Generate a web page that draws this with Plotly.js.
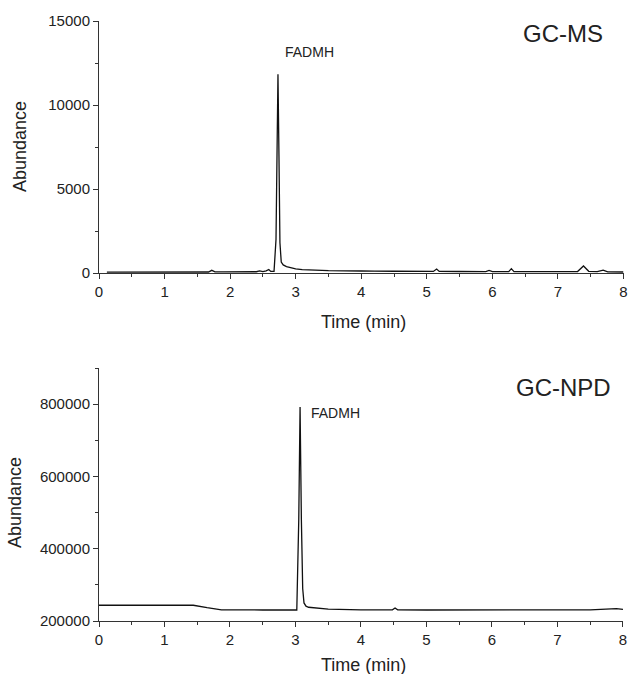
<!DOCTYPE html>
<html>
<head>
<meta charset="utf-8">
<script src="https://cdn.plot.ly/plotly-3.0.1.min.js"></script>
<style>html,body{margin:0;padding:0;background:#fff;}#chart{width:628px;height:674px;}</style>
</head>
<body>
<div id="chart"></div>
<script>
// GC-MS chromatogram (time in min, abundance)
const msTime = [0.12, 0.5, 1.0, 1.5, 1.67, 1.72, 1.77, 1.9, 2.2, 2.4, 2.45, 2.5, 2.55, 2.59, 2.62, 2.67, 2.7, 2.715, 2.73, 2.745, 2.76, 2.78, 2.81, 2.86, 2.92, 3.0, 3.1, 3.3, 3.5, 4.0, 4.1, 4.2, 4.5, 5.0, 5.1, 5.15, 5.19, 5.5, 5.9, 5.95, 6.0, 6.25, 6.29, 6.33, 6.8, 7.3, 7.39, 7.47, 7.6, 7.69, 7.76, 8.0];
const msAbund = [50, 55, 55, 60, 60, 160, 70, 65, 65, 75, 130, 85, 130, 210, 95, 100, 2000, 8000, 11830, 7000, 1800, 650, 480, 380, 300, 240, 200, 170, 140, 120, 140, 115, 105, 95, 95, 240, 95, 90, 85, 150, 85, 85, 260, 85, 80, 85, 420, 100, 80, 170, 70, 60];

// GC-NPD chromatogram
const npdTime = [0, 1.44, 1.65, 1.87, 2.5, 3.02, 3.05, 3.07, 3.09, 3.11, 3.13, 3.16, 3.2, 3.3, 3.5, 4.0, 4.48, 4.52, 4.56, 5.0, 6.0, 7.0, 7.5, 7.9, 8.0];
const npdAbund = [243600, 243600, 237000, 231000, 230500, 230500, 480000, 792000, 480000, 290000, 250000, 241000, 238000, 236000, 233000, 231000, 231000, 236000, 231000, 230500, 230000, 230000, 231000, 234000, 232000];

const msTicks = [0, 5000, 10000, 15000];
const msTickText = ['0', '5000', '10000', '15000'];
const npdTicks = [200000, 400000, 600000, 800000];
const npdTickText = ['200000', '400000', '600000', '800000'];
const timeTicks = [0, 1, 2, 3, 4, 5, 6, 7, 8];
const timeTickText = ['0', '1', '2', '3', '4', '5', '6', '7', '8'];

const W = 628, H = 674;
const px = v => v / W;
const py = v => 1 - v / H;

const tickFont = {family: 'Liberation Sans, Arial, sans-serif', size: 15, color: '#222'};
const baseX = {
  range: [0, 8.0005], tickvals: timeTicks, ticktext: timeTickText, ticks: 'outside', ticklen: 5, tickcolor: '#333',
  showline: true, linecolor: '#333', linewidth: 1, showgrid: false, zeroline: false,
  tickfont: tickFont, fixedrange: true,
  minor: {dtick: 0.5, tick0: 0, ticks: 'outside', ticklen: 3, tickcolor: '#333', showgrid: false}
};

const traces = [
  {x: msTime, y: msAbund, type: 'scatter', mode: 'lines', line: {color: '#111', width: 1.3}, xaxis: 'x', yaxis: 'y', hoverinfo: 'skip'},
  {x: npdTime, y: npdAbund, type: 'scatter', mode: 'lines', line: {color: '#111', width: 1.3}, xaxis: 'x2', yaxis: 'y2', hoverinfo: 'skip'}
];

const annFont = (s) => ({family: 'Liberation Sans, Arial, sans-serif', size: s, color: '#222'});
const ann = (text, x, y, size, opts) => Object.assign({text, xref: 'paper', yref: 'paper', x: px(x), y: py(y), showarrow: false, xanchor: 'center', yanchor: 'middle', font: annFont(size)}, opts || {});

const layout = {
  width: W, height: H,
  margin: {l: 0, r: 0, t: 0, b: 0},
  paper_bgcolor: '#fff', plot_bgcolor: '#fff',
  showlegend: false,
  xaxis: Object.assign({}, baseX, {domain: [px(99), px(623.5)], anchor: 'y'}),
  yaxis: {
    domain: [py(273), py(21)], anchor: 'x', range: [0, 15000], tickvals: msTicks, ticktext: msTickText,
    ticks: 'outside', ticklen: 5, tickcolor: '#333', showline: true, linecolor: '#333', linewidth: 1,
    showgrid: false, zeroline: false, tickfont: tickFont, fixedrange: true,
    minor: {dtick: 2500, tick0: 0, ticks: 'outside', ticklen: 3, tickcolor: '#333', showgrid: false}
  },
  xaxis2: Object.assign({}, baseX, {domain: [px(99), px(623)], anchor: 'y2'}),
  yaxis2: {
    domain: [py(621), py(368)], anchor: 'x2', range: [200000, 900000], tickvals: npdTicks, ticktext: npdTickText,
    ticks: 'outside', ticklen: 5, tickcolor: '#333', showline: true, linecolor: '#333', linewidth: 1,
    showgrid: false, zeroline: false, tickfont: tickFont, fixedrange: true,
    minor: {dtick: 100000, tick0: 0, ticks: 'outside', ticklen: 3, tickcolor: '#333', showgrid: false}
  },
  annotations: [
    ann('Abundance', 20, 147, 18, {textangle: -90}),
    ann('Abundance', 15, 503, 18, {textangle: -90}),
    ann('Time (min)', 363, 322, 18),
    ann('Time (min)', 363, 665, 18),
    ann('GC-MS', 563, 34, 24),
    ann('GC-NPD', 563, 387, 24),
    ann('FADMH', 283, 52, 14, {xanchor: 'left'}),
    ann('FADMH', 309, 413, 14, {xanchor: 'left'})
  ]
};

Plotly.newPlot('chart', traces, layout, {staticPlot: true, displayModeBar: false});
</script>
</body>
</html>
